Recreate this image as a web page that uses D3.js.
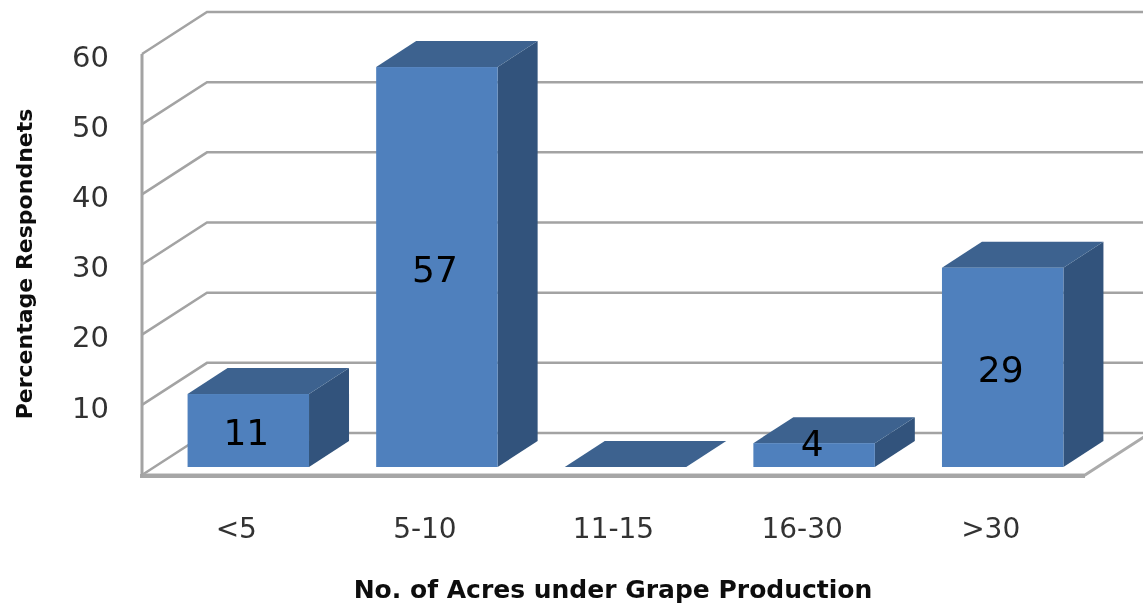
<!DOCTYPE html>
<html>
<head>
<meta charset="utf-8">
<script src="https://cdn.jsdelivr.net/npm/d3@7"></script>
<style>
  html, body { margin: 0; padding: 0; background: #fff; }
  svg { display: block; }
  text { font-family: "DejaVu Sans", sans-serif; }
</style>
</head>
<body>
<svg id="chart" width="1143" height="608"></svg>
<script>
const categories = ['<5', '5-10', '11-15', '16-30', '>30'];
// height of each drawn bar (they sit a bit under their labels)
const barHeights = [10.4, 57, 0, 3.4, 28.4];
const barLabels = ['11', '57', '', '4', '29'];
const yTicks = [10, 20, 30, 40, 50, 60];

const width = 1143, height = 608;
const frontShift = { x: -12.5, y: 8 };   // bar plane to front edge of the floor
const backShift = { x: 65, y: -42 };     // front edge to back wall
const barDepth = { x: 40, y: -26 };

const svg = d3.select('#chart');

const defs = svg.append('defs');
defs.append('filter').attr('id', 'soft')
  .append('feGaussianBlur').attr('stdDeviation', 0.6);

const xFront = d3.scaleBand().domain(categories).range([142, 1085]).paddingInner(0.356).paddingOuter(0.178);
const xBar = d3.scaleBand().domain(categories).range([141.5 - frontShift.x, 1084.5 - frontShift.x]).paddingInner(0.356).paddingOuter(0.178);
const y = d3.scaleLinear().domain([0, 60]).range([467, 46]);

const yFront = v => y(v) + frontShift.y;
const yBack = v => yFront(v) + backShift.y;

const g = svg.append('g').attr('filter', 'url(#soft)');

// gridlines, they bend at the back wall
g.selectAll('path.grid')
  .data([0].concat(yTicks)).enter().append('path')
  .attr('class', 'grid')
  .attr('d', d => d3.line()([[142, yFront(d)], [142 + backShift.x, yBack(d)], [width, yBack(d)]]))
  .style('fill', 'none')
  .style('stroke', '#a3a3a3')
  .style('stroke-width', '2.5px');

// floor
g.append('path')
  .attr('d', d3.line()([[142, yFront(0)], [1085, yFront(0)], [1085 + backShift.x, yBack(0)]]))
  .style('fill', 'none')
  .style('stroke', '#ababab')
  .style('stroke-width', '3px');
g.append('rect')
  .attr('x', 140).attr('y', yFront(0) - 1)
  .attr('width', 945).attr('height', 4)
  .style('fill', '#a6a6a6');

// left wall
g.append('line')
  .attr('x1', 142).attr('x2', 142)
  .attr('y1', yFront(60)).attr('y2', yFront(0) + 2)
  .style('stroke', '#a3a3a3')
  .style('stroke-width', '3px');

// bars
const bars = g.selectAll('g.bar')
  .data(categories).enter().append('g')
  .attr('class', 'bar')
  .each(function (d, i) {
    const x0 = xBar(d), x1 = x0 + xBar.bandwidth();
    const top = y(barHeights[i]), base = y(0);
    const dx = barDepth.x, dy = barDepth.y;
    const poly = pts => d3.line()(pts) + 'Z';

    d3.select(this).append('path')
      .attr('d', poly([[x1, top], [x1 + dx, top + dy], [x1 + dx, base + dy], [x1, base]]))
      .style('fill', '#32537b');
    d3.select(this).append('path')
      .attr('d', poly([[x0, top], [x0 + dx, top + dy], [x1 + dx, top + dy], [x1, top]]))
      .style('fill', '#3c628f');
    d3.select(this).append('rect')
      .attr('x', x0).attr('y', top)
      .attr('width', xBar.bandwidth()).attr('height', base - top)
      .style('fill', '#4f80bd');
  });

const labels = svg.append('g').attr('filter', 'url(#soft)');

// value labels, the short bar has its label pushed up over the top face
labels.selectAll('text.value')
  .data(categories).enter().append('text')
  .attr('class', 'value')
  .attr('x', d => xBar(d) + xBar.bandwidth() / 2 - 2)
  .attr('y', (d, i) => Math.min((y(barHeights[i]) + y(0)) / 2, 441) + 2)
  .attr('dy', '0.36em')
  .attr('text-anchor', 'middle')
  .style('font-size', '36px')
  .style('fill', '#000')
  .text((d, i) => barLabels[i]);

// axes
const yAxis = d3.axisLeft(d3.scaleLinear().domain([0, 60]).range([yFront(0), yFront(60)]))
  .tickValues(yTicks).tickSize(0).tickPadding(0);
labels.append('g').attr('transform', 'translate(109, 3)').call(yAxis)
  .call(a => a.select('.domain').remove())
  .selectAll('text')
  .style('font-size', '29px')
  .style('fill', '#333');

const xAxis = d3.axisBottom(xFront).tickSize(0).tickPadding(0);
labels.append('g').attr('transform', 'translate(0, 518)').call(xAxis)
  .call(a => a.select('.domain').remove())
  .selectAll('text')
  .style('font-size', '28px')
  .style('fill', '#333');

// axis titles
labels.append('text')
  .attr('x', 613).attr('y', 598)
  .attr('text-anchor', 'middle')
  .style('font-size', '25px')
  .style('font-weight', 'bold')
  .style('fill', '#111')
  .text('No. of Acres under Grape Production');

labels.append('text')
  .attr('transform', 'translate(32, 264) rotate(-90)')
  .attr('text-anchor', 'middle')
  .style('font-size', '22px')
  .style('font-weight', 'bold')
  .style('fill', '#111')
  .text('Percentage Respondnets');
</script>
</body>
</html>
